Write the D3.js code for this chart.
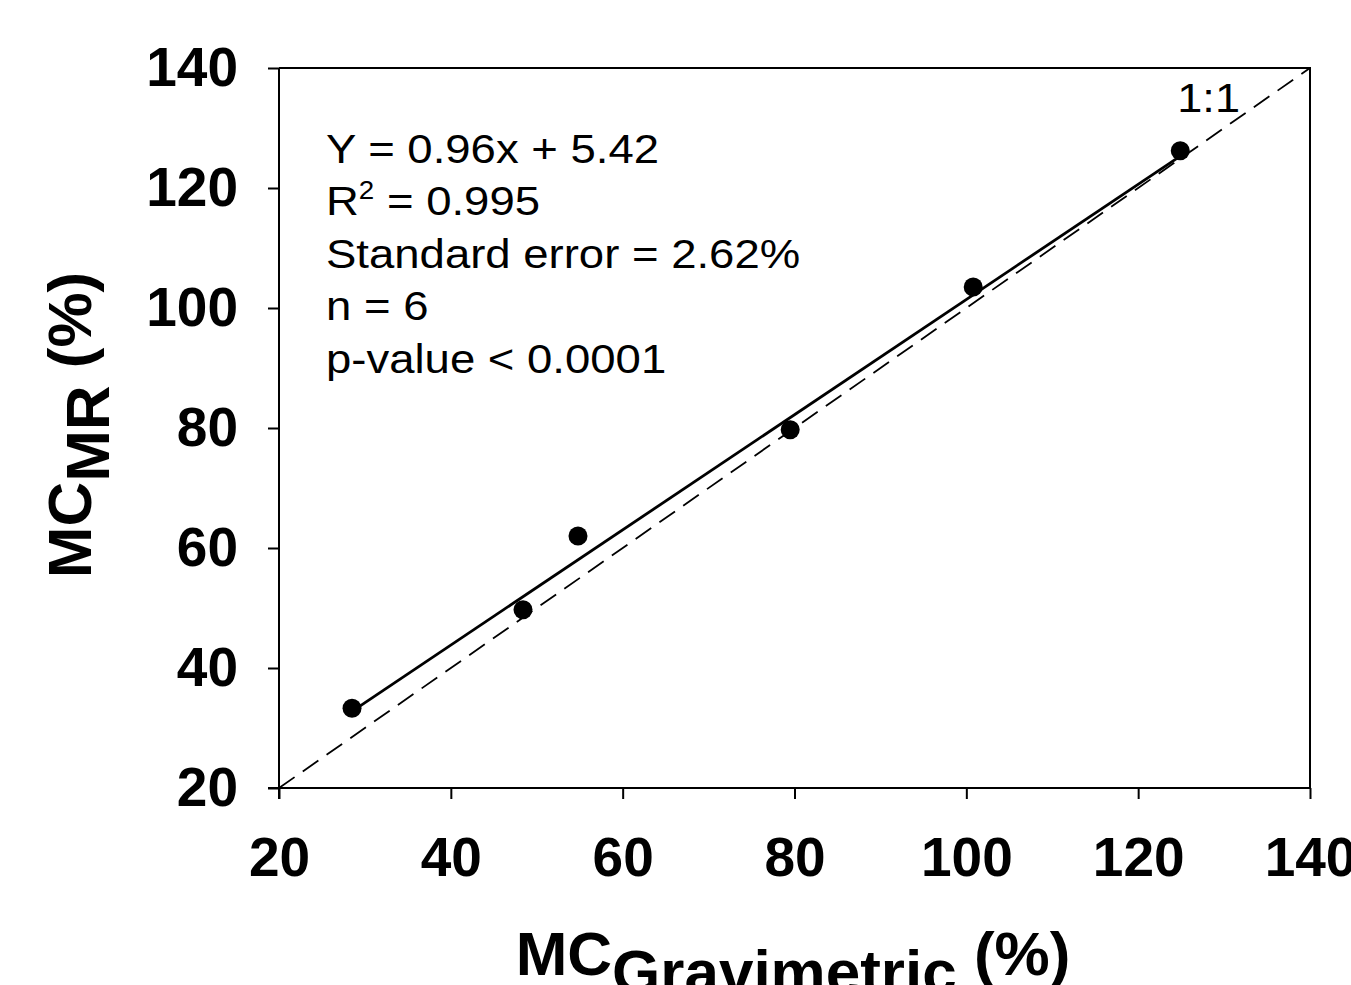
<!DOCTYPE html>
<html>
<head>
<meta charset="utf-8">
<script src="https://cdn.jsdelivr.net/npm/d3@7"></script>
<style>
  html, body { margin: 0; padding: 0; background: #fff; }
  svg { display: block; font-family: "Liberation Sans", Arial, sans-serif; }
</style>
</head>
<body>
<svg id="chart" width="1351" height="985"></svg>
<script>
"use strict";

const mcGravimetric = [28.5, 48.4, 54.8, 79.5, 100.8, 124.9];
const mcMR = [33.3, 49.7, 62.0, 79.7, 103.5, 126.2];
const xTicks = [20, 40, 60, 80, 100, 120, 140];
const yTicks = [20, 40, 60, 80, 100, 120, 140];
const fitSlope = 0.96;
const fitIntercept = 5.42;
const statLines = ["Y = 0.96x + 5.42", "R2", "Standard error = 2.62%", "n = 6", "p-value < 0.0001"];

const margin = { left: 279, right: 41, top: 68, bottom: 197 };
const width = 1351, height = 985;

const svg = d3.select('#chart');

const x = d3.scaleLinear().domain([20, 140]).range([margin.left, width - margin.right]);
const y = d3.scaleLinear().domain([20, 140]).range([height - margin.bottom, margin.top]);

// frame (top + right)
svg.append('path')
  .attr('d', `M${x(20)},${y(140)}H${x(140)}V${y(20)}`)
  .attr('fill', 'none').attr('stroke', '#000').attr('stroke-width', 2);

// axes
const xAxis = svg.append('g')
  .attr('transform', `translate(0,${y(20)})`)
  .call(d3.axisBottom(x).tickValues(xTicks).tickSize(11).tickPadding(38).tickSizeOuter(0));
const yAxis = svg.append('g')
  .attr('transform', `translate(${x(20)},0)`)
  .call(d3.axisLeft(y).tickValues(yTicks).tickSize(11).tickPadding(30).tickSizeOuter(0));

[xAxis, yAxis].forEach((g) => {
  g.select('.domain').attr('stroke', '#000').attr('stroke-width', 2);
  g.selectAll('.tick line').attr('stroke', '#000').attr('stroke-width', 2);
  g.selectAll('.tick text')
    .attr('fill', '#000')
    .style('font-family', '"Liberation Sans", Arial, sans-serif')
    .style('font-size', '55px')
    .style('font-weight', 'bold');
});
// the axis lines run a little past the corner like in the original
xAxis.select('.domain').attr('d', `M${x(20) - 11},0H${x(140)}`);
yAxis.select('.domain').attr('d', `M0,${y(140)}V${y(20) + 11}`);

// 1:1 line
svg.append('line')
  .attr('x1', x(20)).attr('y1', y(20))
  .attr('x2', x(140)).attr('y2', y(140))
  .attr('stroke', '#000').attr('stroke-width', 1.8)
  .attr('stroke-dasharray', '19,10');

svg.append('text')
  .attr('transform', `translate(${x(128.2)},${y(132.7)}) scale(1.1,1)`)
  .attr('text-anchor', 'middle')
  .style('font-size', '41px')
  .text('1:1');

// regression line over the data range
const xFit = d3.extent(mcGravimetric);
svg.append('line')
  .attr('x1', x(xFit[0])).attr('y1', y(fitSlope * xFit[0] + fitIntercept))
  .attr('x2', x(xFit[1])).attr('y2', y(fitSlope * xFit[1] + fitIntercept))
  .attr('stroke', '#000').attr('stroke-width', 2.8);

// points
svg.append('g').selectAll('circle')
  .data(mcGravimetric)
  .join('circle')
  .attr('cx', (d) => x(d))
  .attr('cy', (d, i) => y(mcMR[i]))
  .attr('r', 9.5)
  .attr('fill', '#000');

// statistics block (the original type is a bit wide, so stretch it)
const stats = svg.append('g')
  .attr('transform', 'translate(326,0) scale(1.11,1)')
  .style('font-size', '41px');
statLines.forEach((line, i) => {
  const t = stats.append('text').attr('x', 0).attr('y', 163 + i * 52.5);
  if (line === 'R2') {
    t.append('tspan').text('R');
    t.append('tspan').attr('dy', -16).style('font-size', '25px').text('2');
    t.append('tspan').attr('dy', 16).text(' = 0.995');
  } else {
    t.text(line);
  }
});

// axis titles
const xTitle = svg.append('text')
  .attr('x', 793).attr('y', 975)
  .attr('text-anchor', 'middle')
  .style('font-size', '62px').style('font-weight', 'bold');
xTitle.append('tspan').text('MC');
xTitle.append('tspan').attr('dy', 18).text('Gravimetric');
xTitle.append('tspan').attr('dy', -18).text(' (%)');

const yTitle = svg.append('text')
  .attr('transform', 'translate(91,425) rotate(-90)')
  .attr('text-anchor', 'middle')
  .style('font-size', '62px').style('font-weight', 'bold');
yTitle.append('tspan').text('MC');
yTitle.append('tspan').attr('dy', 18).text('MR');
yTitle.append('tspan').attr('dy', -18).text(' (%)');
</script>
</body>
</html>
